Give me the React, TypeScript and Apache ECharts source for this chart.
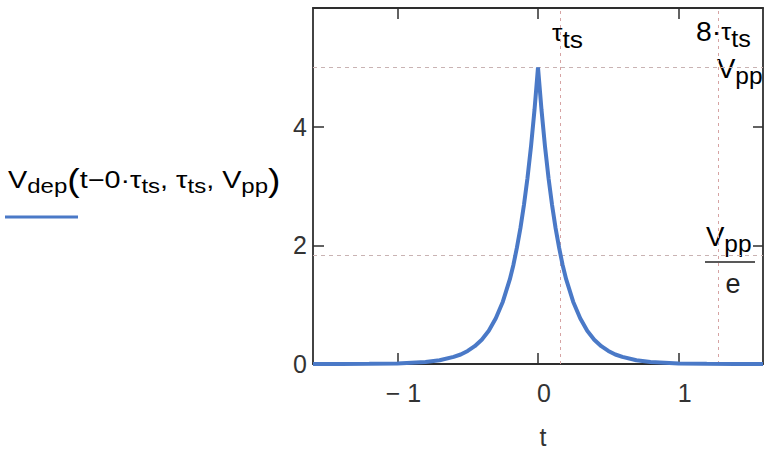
import React, { useEffect, useRef } from "react";
import * as echarts from "echarts";

// Curve samples (t, V)
const tValues = [
  -1.6, -1.4, -1.2, -1.0, -0.8, -0.7, -0.6, -0.55, -0.5, -0.45, -0.4, -0.35, -0.3, -0.25, -0.2, -0.175,
  -0.15, -0.125, -0.1, -0.075, -0.05, -0.025, 0,
  0.025, 0.05, 0.075, 0.1, 0.125, 0.15, 0.175, 0.2, 0.25, 0.3, 0.35, 0.4, 0.45, 0.5, 0.55, 0.6, 0.7,
  0.8, 1.0, 1.2, 1.4, 1.6,
];
const vValues = [
  0.0, 0.001, 0.003, 0.01, 0.034, 0.063, 0.12, 0.16, 0.22, 0.30, 0.41, 0.56, 0.77, 1.05, 1.43, 1.67,
  1.96, 2.29, 2.68, 3.13, 3.66, 4.28, 5.0,
  4.28, 3.66, 3.13, 2.68, 2.29, 1.96, 1.67, 1.43, 1.05, 0.77, 0.56, 0.41, 0.30, 0.22, 0.16, 0.12, 0.063,
  0.034, 0.01, 0.003, 0.001, 0.0,
];

// Marker levels
const hLevels = [5.0, 1.84]; // Vpp, Vpp/e
const vLevels = [0.16, 1.28]; // tau_ts, 8*tau_ts

const xTicks = [-1, 0, 1];
const yTicks = [0, 2, 4];
const yTicksRight = [2, 4];

const FONT = "Liberation Sans";
const BLUE = "#4a79c7";
const AXIS = "#2e2e2e";

const rich = {
  m: { fontSize: 24, fontFamily: FONT, color: "#222" },
  s: { fontSize: 20, fontFamily: FONT, color: "#222", padding: [12, 0, 0, 0] },
  p: { fontSize: 31, fontFamily: FONT, color: "#222" },
  M: { fontSize: 27, fontFamily: FONT, color: "#222" },
  S: { fontSize: 24, fontFamily: FONT, color: "#222", padding: [14, 0, 0, 0] },
  T: { fontSize: 24, fontFamily: FONT, color: "#222" },
};

export default function App() {
  const ref = useRef<HTMLDivElement>(null);
  useEffect(() => {
    const chart = echarts.init(ref.current!, null, { renderer: "svg" });
    const data = tValues.map((t, i) => [t, vValues[i]]);
    const axisCommon = {
      type: "value",
      axisLine: { show: true, onZero: false, lineStyle: { color: AXIS, width: 1.8 } },
      splitLine: { show: false },
    };
    chart.setOption({
      animation: false,
      backgroundColor: "#ffffff",
      grid: { left: 313, top: 8, right: 1, bottom: 86, containLabel: false },
      xAxis: [
        {
          ...axisCommon,
          position: "bottom",
          min: -1.6,
          max: 1.6,
          axisTick: { show: true, inside: true, length: 11, customValues: xTicks, lineStyle: { color: AXIS, width: 1.5 } },
          axisLabel: {
            show: true,
            customValues: xTicks,
            margin: 16,
            fontSize: 25,
            fontFamily: FONT,
            color: "#333",
            padding: [0, 0, 0, 12],
            formatter: (v: number) => (v < 0 ? "\u2212 " + Math.abs(v) : String(v)),
          },
        },
        {
          ...axisCommon,
          position: "top",
          min: -1.6,
          max: 1.6,
          axisTick: { show: true, inside: true, length: 11, customValues: xTicks, lineStyle: { color: AXIS, width: 1.5 } },
          axisLabel: { show: false },
        },
      ],
      yAxis: [
        {
          ...axisCommon,
          position: "left",
          min: 0,
          max: 6,
          axisTick: { show: true, inside: true, length: 11, customValues: yTicks, lineStyle: { color: AXIS, width: 1.5 } },
          axisLabel: {
            show: true,
            customValues: yTicks,
            margin: 6,
            fontSize: 25,
            fontFamily: FONT,
            color: "#333",
            padding: [6, 0, 0, 0],
          },
        },
        {
          ...axisCommon,
          position: "right",
          min: 0,
          max: 6,
          axisTick: { show: true, inside: true, length: 10, customValues: yTicksRight, lineStyle: { color: AXIS, width: 1.5 } },
          axisLabel: { show: false },
        },
      ],
      series: [
        {
          type: "line",
          data,
          xAxisIndex: 0,
          yAxisIndex: 0,
          showSymbol: false,
          smooth: false,
          lineStyle: { color: BLUE, width: 4 },
          z: 5,
          markLine: {
            silent: true,
            symbol: "none",
            label: { show: false },
            data: [
              ...hLevels.map((y) => ({ yAxis: y, lineStyle: { color: "#c9b3b3", type: [4, 4], width: 1 } })),
              ...vLevels.map((x) => ({ xAxis: x, lineStyle: { color: "#d6a3a3", type: [3, 4], width: 1 } })),
            ],
          },
        },
      ],
      graphic: [
        {
          type: "text",
          x: 8,
          y: 164,
          scaleX: 1.2,
          style: {
            text: "{m|V}{s|dep}{p|(}{m|t\u22120\u00b7\u03c4}{s|ts}{m|, \u03c4}{s|ts}{m|, V}{s|pp}{p|)}",
            rich,
            textVerticalAlign: "top",
            textAlign: "left",
          },
        },
        {
          type: "line",
          shape: { x1: 5, y1: 217, x2: 78, y2: 217 },
          style: { stroke: BLUE, lineWidth: 3 },
        },
        {
          type: "text",
          x: 543,
          y: 437,
          style: { text: "t", fontSize: 25, fontFamily: FONT, fill: "#333", textAlign: "center", textVerticalAlign: "middle" },
        },
        {
          type: "text",
          x: 552,
          y: 13,
          scaleX: 1.1,
          style: { text: "{T|\u03c4}{S|ts}", rich, textVerticalAlign: "top", textAlign: "left" },
        },
        {
          type: "text",
          x: 696,
          y: 13,
          scaleX: 1.05,
          style: { text: "{M|8\u00b7}{T|\u03c4}{S|ts}", rich, textVerticalAlign: "top", textAlign: "left" },
        },
        {
          type: "text",
          x: 717,
          y: 50,
          scaleX: 1.02,
          style: { text: "{M|V}{S|pp}", rich, textVerticalAlign: "top", textAlign: "left" },
        },
        {
          type: "text",
          x: 706,
          y: 218,
          scaleX: 1.02,
          style: { text: "{M|V}{S|pp}", rich, textVerticalAlign: "top", textAlign: "left" },
        },
        {
          type: "line",
          shape: { x1: 705, y1: 262, x2: 755, y2: 262 },
          style: { stroke: "#222", lineWidth: 1.5 },
        },
        {
          type: "text",
          x: 733,
          y: 284,
          style: { text: "e", fontSize: 27, fontFamily: FONT, fill: "#222", textAlign: "center", textVerticalAlign: "middle" },
        },
      ],
    });
    return () => chart.dispose();
  }, []);
  return <div ref={ref} style={{ width: 764, height: 450, position: "absolute", left: 0, top: 0 }} />;
}
